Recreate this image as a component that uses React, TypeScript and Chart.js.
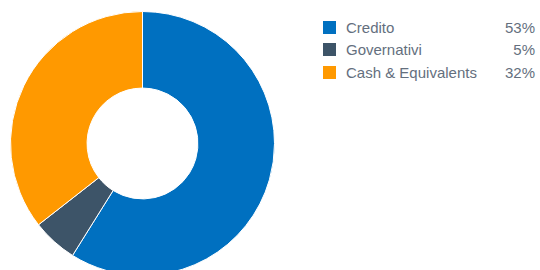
import React, { useEffect, useRef } from "react";
import { Chart, registerables } from "chart.js";

Chart.register(...registerables);

const labels = ["Credito", "Governativi", "Cash & Equivalents"];
const values = [53, 5, 32];
const colors = ["#0070C0", "#3D5468", "#FF9900"];

export default function App() {
  const ref = useRef<HTMLCanvasElement>(null);
  useEffect(() => {
    document.body.style.margin = "0";
    document.body.style.overflow = "hidden";
    const chart = new Chart(ref.current!, {
      type: "doughnut",
      data: {
        labels,
        datasets: [
          {
            data: values,
            backgroundColor: colors,
            borderColor: "#ffffff",
            borderWidth: 1,
          },
        ],
      },
      options: {
        animation: false,
        responsive: false,
        cutout: "42%",
        layout: { padding: 0 },
        plugins: { legend: { display: false }, tooltip: { enabled: false } },
      },
    });
    return () => chart.destroy();
  }, []);

  return (
    <div style={{ position: "relative", width: 540, height: 270, background: "#fff", overflow: "hidden" }}>
      <canvas ref={ref} width={265} height={265} style={{ position: "absolute", left: 10, top: 11, width: 265, height: 265 }} />
      <div style={{ position: "absolute", left: 323, top: 16, width: 212, fontFamily: "'Liberation Sans', Arial, sans-serif", fontSize: 15, color: "#646F7E" }}>
        {labels.map((l, i) => (
          <div key={l} style={{ display: "flex", alignItems: "center", height: 22.5 }}>
            <span style={{ width: 13, height: 13, background: colors[i], marginRight: 10, flex: "none" }} />
            <span style={{ flex: 1 }}>{l}</span>
            <span>{values[i]}%</span>
          </div>
        ))}
      </div>
    </div>
  );
}
